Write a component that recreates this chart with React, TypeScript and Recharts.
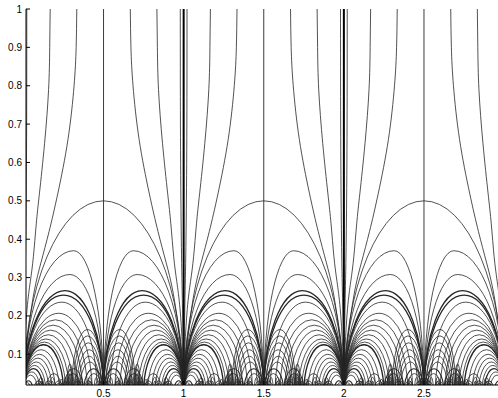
import React from 'react';
import {
  ComposedChart,
  Line,
  XAxis,
  YAxis,
  ReferenceArea,
  ReferenceLine,
} from 'recharts';

const xTicks = [0.5, 1, 1.5, 2, 2.5];
const yTicks = [0.1, 0.2, 0.3, 0.4, 0.5, 0.6, 0.7, 0.8, 0.9, 1];
const xRange = [0.016, 2.962];
const yRange = [0.02, 1];

// integers where the curves bunch together, half integers carry a straight line
const cusps = [0, 1, 2, 3];
const cuspSides = [-1, 1];
const halfLines = [0.5, 1.5, 2.5];

// curves coming down from the top into an integer: [distance from integer, y]
const fanThird = [
  [0.333, 1], [0.329, 0.9], [0.316, 0.8], [0.278, 0.66], [0.215, 0.52],
  [0.16, 0.42], [0.11, 0.34], [0.07, 0.27], [0.036, 0.18], [0.012, 0.09], [0, 0.02],
];
const fanSixth = [
  [0.167, 1], [0.164, 0.9], [0.157, 0.79], [0.132, 0.65], [0.1, 0.52],
  [0.08, 0.44], [0.062, 0.354], [0.043, 0.29], [0.023, 0.22], [0.008, 0.12], [0, 0.02],
];
const fanNear = [
  [0.021, 1], [0.02, 0.7], [0.016, 0.45], [0.01, 0.28], [0.004, 0.15], [0, 0.02],
];
const fans = [fanThird, fanSixth, fanNear];

// arches seen from an integer: [near foot, peak, height, far foot, weight]
const outerArches = [
  [0, 0.5, 0.5, 0.5, 1],
  [0, 0.314, 0.37, 0.5, 1],
  [0, 0.29, 0.308, 0.5, 1],
  [0, 0.26, 0.266, 0.5, 1.6],
  [0, 0.25, 0.254, 0.5, 1.6],
];
const innerArches = [
  [0, 0.24, 0.236, 0.46, 1],
  [0, 0.22, 0.207, 0.43, 1],
  [0, 0.2, 0.19, 0.4, 1],
  [0, 0.185, 0.176, 0.37, 1],
  [0, 0.17, 0.163, 0.34, 1],
  [0, 0.155, 0.151, 0.31, 1],
  [0, 0.14, 0.14, 0.285, 1],
  [0, 0.13, 0.132, 0.265, 1],
  [0, 0.125, 0.125, 0.25, 1.7],
  [0, 0.11, 0.112, 0.225, 1],
  [0, 0.1, 0.1, 0.2, 1],
  [0, 0.09, 0.09, 0.18, 1],
  [0, 0.08, 0.08, 0.16, 1],
  [0, 0.07, 0.071, 0.14, 1],
  [0, 0.0625, 0.0625, 0.125, 1.6],
  [0, 0.052, 0.054, 0.105, 1],
  [0, 0.044, 0.046, 0.09, 1],
  [0, 0.031, 0.031, 0.0625, 1.4],
  [0, 0.024, 0.026, 0.05, 1],
];
const farArches = [
  [0.3, 0.4, 0.165, 0.5, 1],
  [0.31, 0.4, 0.148, 0.5, 1],
  [0.32, 0.405, 0.13, 0.49, 1],
  [0.33, 0.41, 0.112, 0.49, 1],
  [0.34, 0.41, 0.095, 0.48, 1],
  [0.35, 0.415, 0.08, 0.48, 1],
  [0.375, 0.4375, 0.0625, 0.5, 1.4],
  [0.25, 0.3125, 0.0625, 0.375, 1.2],
  [0.26, 0.31, 0.05, 0.36, 1],
  [0.39, 0.44, 0.05, 0.49, 1],
];
const bulbArches = [
  [0.27, 0.29, 0.075, 0.31, 1],
  [0.275, 0.29, 0.062, 0.305, 1],
  [0.28, 0.29, 0.05, 0.3, 1],
  [0.283, 0.29, 0.04, 0.297, 1],
  [0.286, 0.29, 0.03, 0.294, 1],
];
const bottomArches = [
  [0.0625, 0.094, 0.031, 0.125, 1.2],
  [0.125, 0.156, 0.031, 0.1875, 1],
  [0.1875, 0.22, 0.031, 0.25, 1],
  [0.07, 0.094, 0.024, 0.12, 1],
  [0.13, 0.156, 0.024, 0.18, 1],
  [0.19, 0.22, 0.024, 0.245, 1],
  [0.14, 0.19, 0.05, 0.24, 1],
  [0.31, 0.34, 0.03, 0.37, 1],
  [0.32, 0.34, 0.022, 0.36, 1],
  [0.44, 0.47, 0.03, 0.5, 1],
  [0.45, 0.47, 0.022, 0.49, 1],
  [0.375, 0.406, 0.031, 0.4375, 1],
  [0.38, 0.406, 0.024, 0.43, 1],
];
// tiny arches that make the dark band along the floor
const floorArches = [
  [0.02, 0.03, 0.02, 0.04, 1],
  [0.04, 0.05, 0.02, 0.06, 1],
  [0.0625, 0.078, 0.02, 0.094, 1],
  [0.094, 0.11, 0.02, 0.125, 1],
  [0.09, 0.11, 0.04, 0.13, 1],
  [0.1, 0.11, 0.03, 0.12, 1],
  [0.16, 0.18, 0.04, 0.2, 1],
  [0.17, 0.18, 0.03, 0.19, 1],
  [0.22, 0.235, 0.035, 0.25, 1],
  [0.23, 0.24, 0.025, 0.25, 1],
  [0.25, 0.265, 0.04, 0.28, 1],
  [0.255, 0.265, 0.03, 0.275, 1],
  [0.315, 0.33, 0.045, 0.345, 1],
  [0.32, 0.33, 0.035, 0.34, 1],
  [0.345, 0.36, 0.04, 0.375, 1],
  [0.35, 0.36, 0.03, 0.37, 1],
  [0.4, 0.415, 0.04, 0.43, 1],
  [0.405, 0.415, 0.03, 0.425, 1],
  [0.44, 0.455, 0.04, 0.47, 1],
  [0.47, 0.485, 0.04, 0.5, 1],
  [0.475, 0.485, 0.03, 0.495, 1],
];
const archSets = [outerArches, innerArches, farArches, bulbArches, bottomArches, floorArches];

const ink = '#262626';
const font = { fill: '#000', fontSize: 10, fontFamily: 'Liberation Sans, Arial, sans-serif' };

const frames = cusps
  .flatMap((n) => cuspSides.map((s) => ({ n, s })))
  .filter(({ n, s }) => Math.min(n, n + s * 0.5) < xRange[1] && Math.max(n, n + s * 0.5) > xRange[0]);

// half-ellipse arch inside the rect the library gives for [x1, x2] x [0, h]
const archShape = (frac: number, w: number) => (p: any) => {
  const { x, y, width, height, clipPath } = p;
  const px = x + width * frac;
  const base = y + height;
  const lw = px - x;
  const rw = x + width - px;
  let d = lw > 0.05 ? `M${x},${base} A${lw},${height} 0 0 1 ${px},${y}` : `M${px},${y}`;
  if (rw > 0.05) d += ` A${rw},${height} 0 0 1 ${x + width},${base}`;
  return <path d={d} fill="none" stroke={ink} strokeWidth={w} clipPath={clipPath} />;
};

export default function App() {
  const arches: React.ReactNode[] = [];
  frames.forEach(({ n, s }, fi) => {
    archSets.forEach((set, si) => {
      set.forEach(([uNear, uPeak, h, uFar, w], ai) => {
        const x1 = s > 0 ? n + uNear : n - uFar;
        const x2 = s > 0 ? n + uFar : n - uNear;
        const frac = s > 0 ? (uPeak - uNear) / (uFar - uNear) : (uFar - uPeak) / (uFar - uNear);
        arches.push(
          <ReferenceArea
            key={`a-${fi}-${si}-${ai}`}
            x1={x1}
            x2={x2}
            y1={0}
            y2={h}
            ifOverflow="hidden"
            shape={archShape(frac, w * 0.8)}
          />
        );
      });
    });
  });

  const fanLines: React.ReactNode[] = [];
  frames.forEach(({ n, s }, fi) => {
    fans.forEach((curve, ci) => {
      const data = curve.map(([u, y]) => ({ x: n + s * u, y }));
      fanLines.push(
        <Line
          key={`f-${fi}-${ci}`}
          data={data}
          dataKey="y"
          type="natural"
          dot={false}
          activeDot={false}
          stroke={ink}
          strokeWidth={0.8}
          isAnimationActive={false}
        />
      );
    });
  });

  return (
    <div style={{ position: 'absolute', left: 0, top: 0, width: 498, height: 398, background: '#fff' }}>
      <ComposedChart width={498} height={398} margin={{ top: 9, right: 0, bottom: 0, left: 0 }}>
        <XAxis
          dataKey="x"
          type="number"
          domain={xRange}
          allowDataOverflow
          ticks={xTicks}
          tickFormatter={(v) => String(v)}
          height={13}
          tickSize={-4}
          tickMargin={9}
          tick={font}
          axisLine={{ stroke: '#000' }}
          tickLine={{ stroke: '#000' }}
        />
        <XAxis
          xAxisId="top"
          orientation="top"
          type="number"
          domain={xRange}
          allowDataOverflow
          ticks={xTicks}
          height={0}
          tickSize={-4}
          tick={false}
          axisLine={{ stroke: '#000' }}
          tickLine={{ stroke: '#000' }}
        />
        <YAxis
          type="number"
          domain={yRange}
          allowDataOverflow
          ticks={yTicks}
          tickFormatter={(v) => String(v)}
          width={26}
          tickSize={-4}
          tickMargin={8}
          tick={font}
          axisLine={{ stroke: '#000' }}
          tickLine={{ stroke: '#000' }}
        />
        <YAxis
          yAxisId="right"
          orientation="right"
          type="number"
          domain={yRange}
          allowDataOverflow
          ticks={yTicks}
          width={0}
          tickSize={-4}
          tick={false}
          axisLine={{ stroke: '#000' }}
          tickLine={{ stroke: '#000' }}
        />
        {halfLines.map((x) => (
          <ReferenceLine key={`h-${x}`} x={x} stroke={ink} strokeWidth={0.9} />
        ))}
        {cusps
          .filter((x) => x > xRange[0] && x < xRange[1])
          .map((x) => (
            <ReferenceLine key={`c-${x}`} x={x} stroke="#000" strokeWidth={2} />
          ))}
        {arches}
        {fanLines}
      </ComposedChart>
    </div>
  );
}
